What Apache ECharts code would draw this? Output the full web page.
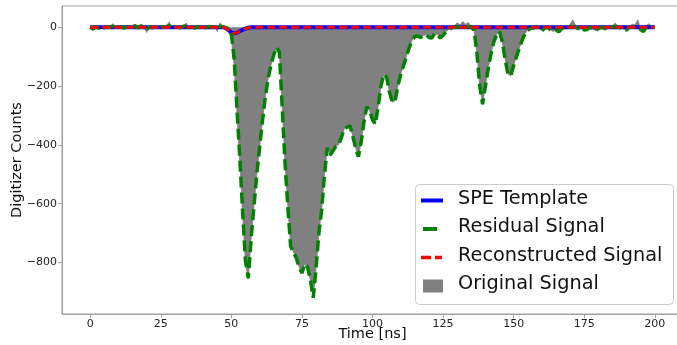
<!DOCTYPE html>
<html>
<head>
<meta charset="utf-8">
<title>Digitizer waveform</title>
<script src="https://cdn.jsdelivr.net/npm/echarts@6/dist/echarts.min.js"></script>
<style>
  html, body { margin: 0; padding: 0; background: #fff; }
  #chart { width: 677px; height: 345px; }
</style>
</head>
<body>
<div id="chart"></div>
<script>
// Sample grid of the digitizer: one sample per nanosecond, 0..200 ns
const sampleTimes = Array.from({ length: 201 }, (_, i) => i);

// Raw digitizer trace (counts)
const originalSignal = [
  0, -12, 5, -8, 3, -3, 2, 0, 12, -4,
  3, 0, -5, 4, -2, 6, 10, -6, 11, 2,
  -18, 4, -3, 2, -5, 3, 0, 4, 18, -5,
  3, 0, -4, 5, 14, -3, 2, -6, 3, 0,
  4, -3, 5, -2, 3, -15, 15, 2, -5, -15,
  -40, -130, -300, -460, -640, -800, -855, -720, -610, -500,
  -410, -320, -240, -175, -130, -95, -68, -85, -270, -460,
  -610, -745, -765, -785, -815, -836, -805, -815, -860, -920,
  -820, -700, -620, -500, -410, -435, -420, -405, -400, -375,
  -345, -340, -335, -370, -410, -440, -390, -320, -270, -285,
  -315, -330, -270, -200, -160, -170, -220, -255, -250, -200,
  -160, -130, -100, -70, -45, -32, -30, -35, -28, -26,
  -35, -37, -22, -25, -37, -28, -15, -8, -2, 5,
  15, 8, 19, 10, 16, 0, -10, -90, -200, -262,
  -200, -140, -90, -50, -25, -15, -50, -110, -160, -165,
  -130, -100, -72, -45, -22, -10, -5, -3, 8, -5,
  -12, -3, 5, -8, -15, -10, -16, -5, 3, 2,
  10, 25, 5, -5, 2, -10, -8, 3, -6, -12,
  -5, 4, -3, -8, 2, 5, 14, 3, -4, -6,
  -10, 3, 10, 8, 25, -8, -15, 5, 12, 2,
  0
];

// What is left after subtracting the reconstruction (counts)
const residualSignal = [
  0, -6, 2, -4, 2, -2, 1, 0, 4, -3,
  2, 0, -3, 2, -1, 3, 4, -3, 4, 1,
  -8, 2, -2, 1, -3, 2, 0, 2, 5, -3,
  2, 0, -2, 3, 5, -2, 1, -3, 2, 0,
  2, -2, 3, -1, 2, -6, 4, 1, -2, -5,
  -22, -109, -281, -446, -631, -795, -853, -720, -610, -500,
  -410, -320, -240, -175, -130, -95, -68, -85, -270, -460,
  -610, -745, -765, -785, -815, -836, -805, -815, -860, -920,
  -820, -700, -620, -500, -410, -435, -420, -405, -400, -375,
  -345, -340, -335, -370, -410, -440, -390, -320, -270, -285,
  -315, -330, -270, -200, -160, -170, -220, -255, -250, -200,
  -160, -130, -100, -70, -45, -32, -30, -35, -28, -26,
  -35, -37, -22, -25, -37, -28, -15, -8, -2, 0,
  1, 0, 2, 1, 2, 0, -10, -90, -200, -262,
  -200, -140, -90, -50, -25, -15, -50, -110, -160, -165,
  -130, -100, -72, -45, -22, -10, -5, -3, 1, -5,
  -12, -3, 0, -8, -15, -10, -16, -5, 0, 0,
  1, 2, 0, -5, 0, -10, -8, 0, -6, -12,
  -5, 0, -3, -8, 0, 1, 2, 0, -4, -6,
  -10, 0, 1, 0, 2, -8, -15, 0, 1, 0,
  0
];

// Single photo-electron template and the fitted reconstruction, [ns, counts]
const speTemplate = [
  [0, 0], [47, 0], [48, -3], [49, -10], [50, -18], [51, -21], [52, -19],
  [53, -14], [54, -9], [55, -5], [56, -2], [57, 0], [200, 0]
];
const reconstructedSignal = [
  [0, 0], [47, 0], [48, -3], [49, -10], [50, -18], [51, -21], [52, -19],
  [53, -14], [54, -9], [55, -5], [56, -2], [57, 0], [200, 0]
];

const xTicks = [0, 25, 50, 75, 100, 125, 150, 175, 200];
const yTicks = [-800, -600, -400, -200, 0];

const seriesNames = ['SPE Template', 'Residual Signal', 'Reconstructed Signal', 'Original Signal'];

const FONT = 'DejaVu Sans';
const pairs = (vals) => sampleTimes.map((t, i) => [t, vals[i]]);
const minus = (v) => String(v).replace('-', '\u2212');

const chart = echarts.init(document.getElementById('chart'), null, { renderer: 'canvas' });

// Legend drawn as a framed box in the lower right of the plot
const legendRows = [200.5, 229, 257.5, 286];
const legendGraphics = [
  {
    type: 'rect', left: 415, top: 184, z: 100,
    shape: { width: 258, height: 120, r: 4 },
    style: { fill: 'rgba(255,255,255,0.9)', stroke: '#cccccc', lineWidth: 1 }
  },
  {
    type: 'line', z: 101,
    shape: { x1: 421, y1: legendRows[0], x2: 443, y2: legendRows[0] },
    style: { stroke: '#0000ff', lineWidth: 4 }
  },
  {
    type: 'line', z: 101,
    shape: { x1: 423, y1: legendRows[1], x2: 437, y2: legendRows[1] },
    style: { stroke: '#008000', lineWidth: 4 }
  },
  {
    type: 'line', z: 101,
    shape: { x1: 421, y1: legendRows[2], x2: 431, y2: legendRows[2] },
    style: { stroke: '#ff0000', lineWidth: 3.5 }
  },
  {
    type: 'line', z: 101,
    shape: { x1: 435, y1: legendRows[2], x2: 442, y2: legendRows[2] },
    style: { stroke: '#ff0000', lineWidth: 3.5 }
  },
  {
    type: 'rect', left: 423, top: legendRows[3] - 6.5, z: 101,
    shape: { width: 20, height: 13 },
    style: { fill: '#808080' }
  }
].concat(seriesNames.map((name, i) => ({
  type: 'text', left: 458, top: legendRows[i] - 11.5, z: 101,
  style: { text: name, fill: '#111', font: '19.3px "' + FONT + '"' }
})));

chart.setOption({
  animation: false,
  backgroundColor: '#ffffff',
  grid: {
    left: 62, top: 6, width: 621, height: 308,
    containLabel: false, outerBoundsMode: 'none',
    show: true, borderColor: '#a0a0a0', borderWidth: 1, backgroundColor: 'transparent'
  },
  xAxis: {
    type: 'value', min: -10, max: 210,
    name: 'Time [ns]', nameLocation: 'middle', nameGap: 13, nameMoveOverlap: false,
    nameTextStyle: { fontFamily: FONT, fontSize: 14.5, color: '#111', verticalAlign: 'top' },
    axisLine: { show: true, onZero: false, lineStyle: { color: '#a0a0a0', width: 1 } },
    axisTick: { show: true, length: 4, customValues: xTicks, lineStyle: { color: '#a0a0a0' } },
    axisLabel: { customValues: xTicks, formatter: minus, fontFamily: FONT, fontSize: 11, color: '#222', margin: 5 },
    splitLine: { show: false }
  },
  yAxis: {
    type: 'value', min: -975, max: 72,
    name: 'Digitizer Counts', nameLocation: 'middle', nameGap: 37, nameMoveOverlap: false,
    nameTextStyle: { fontFamily: FONT, fontSize: 14.5, color: '#111' },
    axisLine: { show: true, onZero: false, lineStyle: { color: '#a0a0a0', width: 1 } },
    axisTick: { show: true, length: 4, customValues: yTicks, lineStyle: { color: '#a0a0a0' } },
    axisLabel: { customValues: yTicks, formatter: minus, fontFamily: FONT, fontSize: 11, color: '#222', margin: 5 },
    splitLine: { show: false }
  },
  series: [
    {
      name: seriesNames[3], type: 'line', data: pairs(originalSignal),
      symbol: 'none', z: 1,
      lineStyle: { color: '#808080', width: 0.8 },
      areaStyle: { color: '#808080', opacity: 1, origin: 0 }
    },
    {
      name: seriesNames[0], type: 'line', data: speTemplate,
      symbol: 'none', z: 2,
      lineStyle: { color: '#0000ff', width: 4 }
    },
    {
      name: seriesNames[1], type: 'line', data: pairs(residualSignal),
      symbol: 'none', z: 3,
      lineStyle: { color: '#008000', width: 3.5, type: [11, 5] }
    },
    {
      name: seriesNames[2], type: 'line', data: reconstructedSignal,
      symbol: 'none', z: 4,
      lineStyle: { color: '#ff0000', width: 3, type: [8, 4] }
    }
  ],
  graphic: legendGraphics
});
</script>
</body>
</html>
